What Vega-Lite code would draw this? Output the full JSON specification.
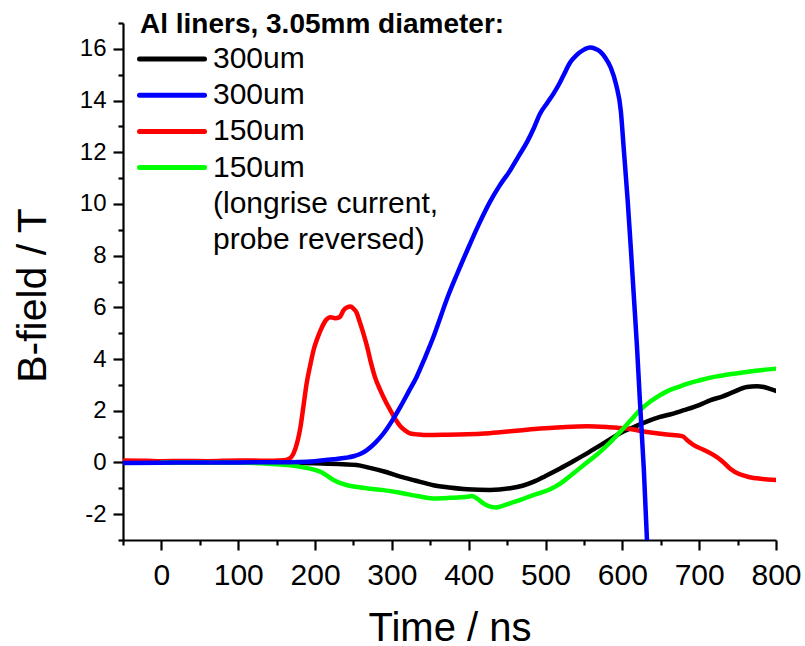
{
  "$schema": "https://vega.github.io/schema/vega-lite/v6.json",
  "width": 653,
  "height": 517,
  "autosize": {"type": "none"},
  "padding": {"left": 123, "top": 23, "right": 29, "bottom": 106},
  "background": "white",
  "config": {
    "view": {"stroke": null},
    "font": "Liberation Sans",
    "axis": {
      "grid": false,
      "domainColor": "black",
      "domainWidth": 2.2,
      "tickColor": "black",
      "tickWidth": 2.2,
      "labelColor": "black",
      "titleColor": "black",
      "labelFont": "Liberation Sans",
      "titleFont": "Liberation Sans",
      "titleFontWeight": "normal",
      "labelFlush": false,
      "labelOverlap": false
    }
  },
  "data": {
    "values": [
      {"series": "300um #1", "t": -50, "B": 0.0},
      {"series": "300um #1", "t": 0, "B": 0.0},
      {"series": "300um #1", "t": 50, "B": 0.0},
      {"series": "300um #1", "t": 100, "B": 0.0},
      {"series": "300um #1", "t": 150, "B": -0.01},
      {"series": "300um #1", "t": 200, "B": -0.03},
      {"series": "300um #1", "t": 230, "B": -0.06},
      {"series": "300um #1", "t": 254, "B": -0.1},
      {"series": "300um #1", "t": 270, "B": -0.2},
      {"series": "300um #1", "t": 290, "B": -0.35},
      {"series": "300um #1", "t": 311, "B": -0.55},
      {"series": "300um #1", "t": 330, "B": -0.7},
      {"series": "300um #1", "t": 354, "B": -0.88},
      {"series": "300um #1", "t": 375, "B": -0.97},
      {"series": "300um #1", "t": 398, "B": -1.04},
      {"series": "300um #1", "t": 428, "B": -1.07},
      {"series": "300um #1", "t": 454, "B": -1.0},
      {"series": "300um #1", "t": 470, "B": -0.9},
      {"series": "300um #1", "t": 484, "B": -0.75},
      {"series": "300um #1", "t": 500, "B": -0.52},
      {"series": "300um #1", "t": 519, "B": -0.23},
      {"series": "300um #1", "t": 535, "B": 0.03},
      {"series": "300um #1", "t": 554, "B": 0.35},
      {"series": "300um #1", "t": 570, "B": 0.64},
      {"series": "300um #1", "t": 589, "B": 0.99},
      {"series": "300um #1", "t": 600, "B": 1.18},
      {"series": "300um #1", "t": 615, "B": 1.37},
      {"series": "300um #1", "t": 630, "B": 1.56},
      {"series": "300um #1", "t": 649, "B": 1.76},
      {"series": "300um #1", "t": 665, "B": 1.88},
      {"series": "300um #1", "t": 680, "B": 2.02},
      {"series": "300um #1", "t": 700, "B": 2.22},
      {"series": "300um #1", "t": 715, "B": 2.41},
      {"series": "300um #1", "t": 730, "B": 2.55},
      {"series": "300um #1", "t": 745, "B": 2.73},
      {"series": "300um #1", "t": 762, "B": 2.92},
      {"series": "300um #1", "t": 775, "B": 2.95},
      {"series": "300um #1", "t": 784, "B": 2.92},
      {"series": "300um #1", "t": 792, "B": 2.85},
      {"series": "300um #1", "t": 800, "B": 2.77},

      {"series": "150um #1", "t": -50, "B": 0.08},
      {"series": "150um #1", "t": -20, "B": 0.07},
      {"series": "150um #1", "t": 0, "B": 0.05},
      {"series": "150um #1", "t": 30, "B": 0.06},
      {"series": "150um #1", "t": 60, "B": 0.05},
      {"series": "150um #1", "t": 100, "B": 0.08},
      {"series": "150um #1", "t": 130, "B": 0.07},
      {"series": "150um #1", "t": 160, "B": 0.09},
      {"series": "150um #1", "t": 167, "B": 0.15},
      {"series": "150um #1", "t": 172, "B": 0.35},
      {"series": "150um #1", "t": 177, "B": 0.8},
      {"series": "150um #1", "t": 181, "B": 1.37},
      {"series": "150um #1", "t": 185, "B": 2.2},
      {"series": "150um #1", "t": 189, "B": 3.05},
      {"series": "150um #1", "t": 194, "B": 3.8},
      {"series": "150um #1", "t": 198, "B": 4.34},
      {"series": "150um #1", "t": 203, "B": 4.8},
      {"series": "150um #1", "t": 207, "B": 5.1},
      {"series": "150um #1", "t": 214, "B": 5.5},
      {"series": "150um #1", "t": 220, "B": 5.62},
      {"series": "150um #1", "t": 226, "B": 5.58},
      {"series": "150um #1", "t": 232, "B": 5.62},
      {"series": "150um #1", "t": 237, "B": 5.88},
      {"series": "150um #1", "t": 242, "B": 6.0},
      {"series": "150um #1", "t": 246, "B": 6.03},
      {"series": "150um #1", "t": 250, "B": 5.95},
      {"series": "150um #1", "t": 254, "B": 5.8},
      {"series": "150um #1", "t": 258, "B": 5.45},
      {"series": "150um #1", "t": 263, "B": 4.98},
      {"series": "150um #1", "t": 268, "B": 4.45},
      {"series": "150um #1", "t": 272, "B": 3.95},
      {"series": "150um #1", "t": 278, "B": 3.3},
      {"series": "150um #1", "t": 285, "B": 2.79},
      {"series": "150um #1", "t": 292, "B": 2.35},
      {"series": "150um #1", "t": 298, "B": 2.02},
      {"series": "150um #1", "t": 305, "B": 1.65},
      {"series": "150um #1", "t": 311, "B": 1.4},
      {"series": "150um #1", "t": 318, "B": 1.22},
      {"series": "150um #1", "t": 324, "B": 1.12},
      {"series": "150um #1", "t": 335, "B": 1.08},
      {"series": "150um #1", "t": 346, "B": 1.06},
      {"series": "150um #1", "t": 370, "B": 1.07},
      {"series": "150um #1", "t": 398, "B": 1.09},
      {"series": "150um #1", "t": 420, "B": 1.12},
      {"series": "150um #1", "t": 441, "B": 1.17},
      {"series": "150um #1", "t": 470, "B": 1.25},
      {"series": "150um #1", "t": 493, "B": 1.31},
      {"series": "150um #1", "t": 520, "B": 1.36},
      {"series": "150um #1", "t": 554, "B": 1.4},
      {"series": "150um #1", "t": 580, "B": 1.37},
      {"series": "150um #1", "t": 606, "B": 1.31},
      {"series": "150um #1", "t": 632, "B": 1.18},
      {"series": "150um #1", "t": 658, "B": 1.08},
      {"series": "150um #1", "t": 678, "B": 1.02},
      {"series": "150um #1", "t": 685, "B": 0.85},
      {"series": "150um #1", "t": 693, "B": 0.67},
      {"series": "150um #1", "t": 705, "B": 0.5},
      {"series": "150um #1", "t": 719, "B": 0.28},
      {"series": "150um #1", "t": 730, "B": 0.05},
      {"series": "150um #1", "t": 740, "B": -0.23},
      {"series": "150um #1", "t": 752, "B": -0.45},
      {"series": "150um #1", "t": 766, "B": -0.57},
      {"series": "150um #1", "t": 780, "B": -0.63},
      {"series": "150um #1", "t": 800, "B": -0.68},

      {"series": "150um #2", "t": 0, "B": 0.0},
      {"series": "150um #2", "t": 50, "B": 0.0},
      {"series": "150um #2", "t": 94, "B": 0.0},
      {"series": "150um #2", "t": 130, "B": -0.03},
      {"series": "150um #2", "t": 150, "B": -0.07},
      {"series": "150um #2", "t": 170, "B": -0.12},
      {"series": "150um #2", "t": 181, "B": -0.17},
      {"series": "150um #2", "t": 195, "B": -0.25},
      {"series": "150um #2", "t": 207, "B": -0.36},
      {"series": "150um #2", "t": 216, "B": -0.52},
      {"series": "150um #2", "t": 224, "B": -0.68},
      {"series": "150um #2", "t": 233, "B": -0.8},
      {"series": "150um #2", "t": 242, "B": -0.88},
      {"series": "150um #2", "t": 255, "B": -0.95},
      {"series": "150um #2", "t": 267, "B": -1.0},
      {"series": "150um #2", "t": 289, "B": -1.07},
      {"series": "150um #2", "t": 311, "B": -1.17},
      {"series": "150um #2", "t": 333, "B": -1.3},
      {"series": "150um #2", "t": 354, "B": -1.39},
      {"series": "150um #2", "t": 375, "B": -1.37},
      {"series": "150um #2", "t": 398, "B": -1.33},
      {"series": "150um #2", "t": 404, "B": -1.3},
      {"series": "150um #2", "t": 411, "B": -1.4},
      {"series": "150um #2", "t": 419, "B": -1.58},
      {"series": "150um #2", "t": 427, "B": -1.7},
      {"series": "150um #2", "t": 435, "B": -1.74},
      {"series": "150um #2", "t": 444, "B": -1.68},
      {"series": "150um #2", "t": 454, "B": -1.58},
      {"series": "150um #2", "t": 470, "B": -1.42},
      {"series": "150um #2", "t": 484, "B": -1.26},
      {"series": "150um #2", "t": 506, "B": -1.04},
      {"series": "150um #2", "t": 520, "B": -0.8},
      {"series": "150um #2", "t": 536, "B": -0.43},
      {"series": "150um #2", "t": 553, "B": -0.02},
      {"series": "150um #2", "t": 571, "B": 0.41},
      {"series": "150um #2", "t": 585, "B": 0.8},
      {"series": "150um #2", "t": 597, "B": 1.18},
      {"series": "150um #2", "t": 610, "B": 1.6},
      {"series": "150um #2", "t": 623, "B": 2.02},
      {"series": "150um #2", "t": 636, "B": 2.35},
      {"series": "150um #2", "t": 649, "B": 2.6},
      {"series": "150um #2", "t": 660, "B": 2.78},
      {"series": "150um #2", "t": 671, "B": 2.9},
      {"series": "150um #2", "t": 685, "B": 3.05},
      {"series": "150um #2", "t": 701, "B": 3.18},
      {"series": "150um #2", "t": 716, "B": 3.29},
      {"series": "150um #2", "t": 732, "B": 3.37},
      {"series": "150um #2", "t": 750, "B": 3.45},
      {"series": "150um #2", "t": 766, "B": 3.52},
      {"series": "150um #2", "t": 783, "B": 3.58},
      {"series": "150um #2", "t": 800, "B": 3.63},

      {"series": "300um #2", "t": -50, "B": -0.02},
      {"series": "300um #2", "t": 0, "B": -0.01},
      {"series": "300um #2", "t": 50, "B": 0.0},
      {"series": "300um #2", "t": 100, "B": 0.0},
      {"series": "300um #2", "t": 150, "B": 0.01},
      {"series": "300um #2", "t": 180, "B": 0.02},
      {"series": "300um #2", "t": 200, "B": 0.05},
      {"series": "300um #2", "t": 224, "B": 0.12},
      {"series": "300um #2", "t": 240, "B": 0.18},
      {"series": "300um #2", "t": 250, "B": 0.24},
      {"series": "300um #2", "t": 260, "B": 0.35},
      {"series": "300um #2", "t": 267, "B": 0.47},
      {"series": "300um #2", "t": 278, "B": 0.75},
      {"series": "300um #2", "t": 289, "B": 1.12},
      {"series": "300um #2", "t": 300, "B": 1.6},
      {"series": "300um #2", "t": 311, "B": 2.15},
      {"series": "300um #2", "t": 322, "B": 2.75},
      {"series": "300um #2", "t": 332, "B": 3.3},
      {"series": "300um #2", "t": 343, "B": 4.05},
      {"series": "300um #2", "t": 354, "B": 4.85},
      {"series": "300um #2", "t": 363, "B": 5.6},
      {"series": "300um #2", "t": 372, "B": 6.35},
      {"series": "300um #2", "t": 385, "B": 7.3},
      {"series": "300um #2", "t": 398, "B": 8.2},
      {"series": "300um #2", "t": 413, "B": 9.2},
      {"series": "300um #2", "t": 428, "B": 10.1},
      {"series": "300um #2", "t": 440, "B": 10.7},
      {"series": "300um #2", "t": 454, "B": 11.3},
      {"series": "300um #2", "t": 465, "B": 11.85},
      {"series": "300um #2", "t": 476, "B": 12.4},
      {"series": "300um #2", "t": 485, "B": 12.95},
      {"series": "300um #2", "t": 493, "B": 13.5},
      {"series": "300um #2", "t": 502, "B": 13.9},
      {"series": "300um #2", "t": 510, "B": 14.25},
      {"series": "300um #2", "t": 517, "B": 14.6},
      {"series": "300um #2", "t": 523, "B": 14.95},
      {"series": "300um #2", "t": 532, "B": 15.47},
      {"series": "300um #2", "t": 540, "B": 15.75},
      {"series": "300um #2", "t": 549, "B": 15.95},
      {"series": "300um #2", "t": 558, "B": 16.05},
      {"series": "300um #2", "t": 565, "B": 16.0},
      {"series": "300um #2", "t": 571, "B": 15.9},
      {"series": "300um #2", "t": 578, "B": 15.65},
      {"series": "300um #2", "t": 585, "B": 15.27},
      {"series": "300um #2", "t": 592, "B": 14.6},
      {"series": "300um #2", "t": 598, "B": 13.6},
      {"series": "300um #2", "t": 602, "B": 12.06},
      {"series": "300um #2", "t": 607, "B": 10.1},
      {"series": "300um #2", "t": 611, "B": 8.3},
      {"series": "300um #2", "t": 615, "B": 6.4},
      {"series": "300um #2", "t": 619, "B": 4.5},
      {"series": "300um #2", "t": 623, "B": 2.3},
      {"series": "300um #2", "t": 628, "B": -0.3},
      {"series": "300um #2", "t": 632, "B": -2.97},
      {"series": "300um #2", "t": 636, "B": -5.2}
    ]
  },
  "resolve": {"axis": {"x": "independent", "y": "independent"}},
  "layer": [
    {
      "mark": {"type": "line", "strokeWidth": 4.5, "clip": true, "strokeCap": "round", "strokeJoin": "round", "interpolate": "monotone"},
      "encoding": {
        "x": {
          "field": "t", "type": "quantitative",
          "scale": {"domain": [-50, 800], "nice": false, "zero": false},
          "axis": {
            "orient": "bottom",
            "values": [0, 100, 200, 300, 400, 500, 600, 700, 800],
            "tickSize": 10, "labelPadding": 10, "labelFontSize": 30,
            "title": "Time / ns", "titleFontSize": 40,
            "titleBaseline": "alphabetic", "titleY": 100
          }
        },
        "y": {
          "field": "B", "type": "quantitative",
          "scale": {"domain": [-3, 17], "nice": false, "zero": false},
          "axis": {
            "orient": "left",
            "values": [-2, 0, 2, 4, 6, 8, 10, 12, 14, 16],
            "labelExpr": "'' + datum.value",
            "tickSize": 10, "labelPadding": 7, "labelFontSize": 24,
            "title": "B-field / T", "titleFontSize": 41,
            "titleBaseline": "alphabetic", "titleAngle": -90, "titleAlign": "center",
            "titleX": -78, "titleY": 272
          }
        },
        "color": {
          "field": "series", "type": "nominal",
          "scale": {
            "domain": ["300um #1", "300um #2", "150um #1", "150um #2", "(longrise current,", "probe reversed)"],
            "range": ["#000000", "#0000ff", "#ff0000", "#00ff00", "transparent", "transparent"]
          },
          "legend": {
            "orient": "none", "legendX": 17, "legendY": -12,
            "title": "Al liners, 3.05mm diameter:",
            "titleFontSize": 28, "titleFontWeight": "bold", "titleColor": "black",
            "titleFont": "Liberation Sans", "titleLimit": 600, "titlePadding": 5,
            "labelFontSize": 30, "labelColor": "black", "labelFont": "Liberation Sans",
            "labelLimit": 600, "labelOffset": 43,
            "labelExpr": "replace(replace(datum.label, ' #1', ''), ' #2', '')",
            "symbolType": "M-2.38,0H7.62", "symbolSize": 169, "symbolStrokeWidth": 5,
            "rowPadding": 6.2, "padding": 0,
            "values": ["300um #1", "300um #2", "150um #1", "150um #2", "(longrise current,", "probe reversed)"],
            "encode": {"symbols": {"update": {"strokeCap": {"value": "round"}}}}
          }
        }
      }
    },
    {
      "mark": {"type": "line", "opacity": 0},
      "encoding": {
        "x": {
          "field": "t", "type": "quantitative",
          "axis": {
            "orient": "bottom",
            "values": [-50, 50, 150, 250, 350, 450, 550, 650, 750],
            "tickSize": 5, "labels": false, "domain": false, "title": null
          }
        },
        "y": {
          "field": "B", "type": "quantitative",
          "axis": {
            "orient": "left",
            "values": [-3, -1, 1, 3, 5, 7, 9, 11, 13, 15, 17],
            "tickSize": 5, "labels": false, "domain": false, "title": null
          }
        },
        "detail": {"field": "series", "type": "nominal"}
      }
    }
  ]
}
